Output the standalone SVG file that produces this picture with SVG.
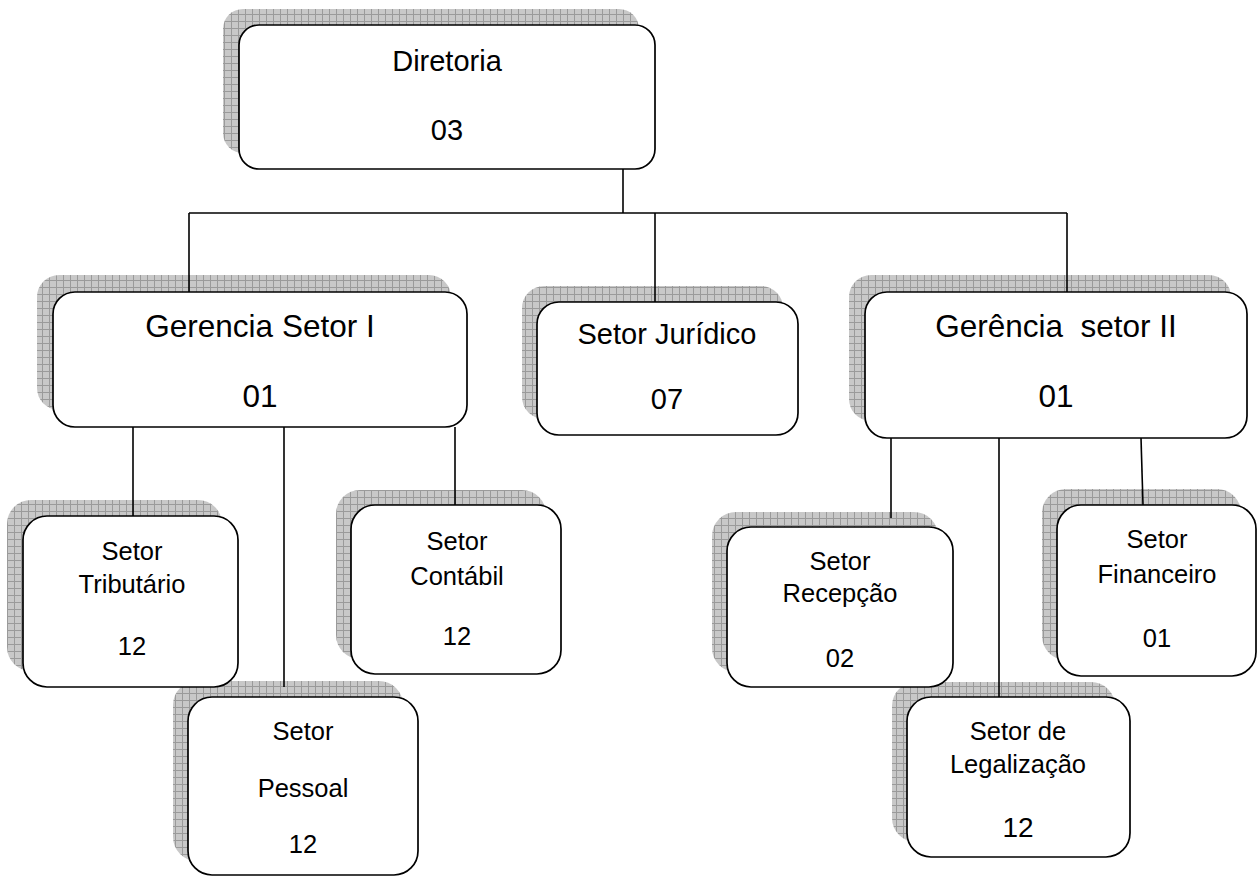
<svg xmlns="http://www.w3.org/2000/svg" width="1258" height="876" viewBox="0 0 1258 876">
<defs>
<pattern id="grid" width="7" height="7" patternUnits="userSpaceOnUse">
<rect width="7" height="7" fill="#c8c8c8"/>
<path d="M0 0.5H7M0.5 0V7" stroke="#9a9a9a" stroke-width="1" fill="none"/>
</pattern>
<style>
.sh{fill:url(#grid);stroke:none}
.box{fill:#fff;stroke:#000;stroke-width:1.7}
.t{font-family:"Liberation Sans",Arial,sans-serif;fill:#000;text-anchor:middle;white-space:pre}
.s{font-size:25.5px}
.con{stroke:#000;stroke-width:1.6;fill:none}
</style>
</defs>
<rect width="1258" height="876" fill="#fff"/>

<g id="diretoria">
<rect class="sh" x="223" y="9" width="416" height="144" rx="20"/>
<rect class="box" x="239" y="25" width="416" height="144" rx="20"/>
<text class="t" x="447" y="71" font-size="29">Diretoria</text>
<text class="t" x="447" y="140" font-size="29">03</text>
</g>

<g id="gerencia1">
<rect class="sh" x="37" y="275" width="414" height="135" rx="22"/>
<rect class="box" x="53" y="292" width="414" height="135" rx="22"/>
<text class="t" x="260" y="337" font-size="31.5">Gerencia Setor I</text>
<text class="t" x="260" y="407" font-size="31.5">01</text>
</g>

<g id="juridico">
<rect class="sh" x="522" y="286" width="261" height="133" rx="22"/>
<rect class="box" x="537" y="302" width="261" height="133" rx="22"/>
<text class="t" x="667" y="344" font-size="29">Setor Jurídico</text>
<text class="t" x="667" y="409" font-size="29">07</text>
</g>

<g id="gerencia2">
<rect class="sh" x="849" y="275" width="382" height="146" rx="22"/>
<rect class="box" x="865" y="292" width="382" height="146" rx="22"/>
<text class="t" x="1056" y="337" font-size="31.5">Gerência  setor II</text>
<text class="t" x="1056" y="407" font-size="31.5">01</text>
</g>

<g id="pessoal">
<rect class="sh" x="173" y="681" width="230" height="180" rx="24"/>
<rect class="box" x="188" y="697" width="230" height="178" rx="24"/>
<text class="t s" x="303" y="740">Setor</text>
<text class="t s" x="303" y="797">Pessoal</text>
<text class="t s" x="303" y="853">12</text>
</g>

<g id="tributario">
<rect class="sh" x="7" y="500" width="215" height="171" rx="24"/>
<rect class="box" x="23" y="516" width="215" height="171" rx="24"/>
<text class="t s" x="132" y="560">Setor</text>
<text class="t s" x="132" y="593">Tributário</text>
<text class="t s" x="132" y="655">12</text>
</g>

<g id="contabil">
<rect class="sh" x="336" y="490" width="210" height="169" rx="24"/>
<rect class="box" x="351" y="505" width="210" height="169" rx="24"/>
<text class="t s" x="457" y="550">Setor</text>
<text class="t s" x="457" y="585">Contábil</text>
<text class="t s" x="457" y="645">12</text>
</g>

<g id="legalizacao">
<rect class="sh" x="892" y="682" width="223" height="160" rx="24"/>
<rect class="box" x="907" y="697" width="223" height="160" rx="24"/>
<text class="t s" x="1018" y="740">Setor de</text>
<text class="t s" x="1018" y="773">Legalização</text>
<text class="t" x="1018" y="837" font-size="28">12</text>
</g>

<g id="recepcao">
<rect class="sh" x="712" y="512" width="226" height="160" rx="24"/>
<rect class="box" x="727" y="527" width="226" height="160" rx="24"/>
<text class="t s" x="840" y="570">Setor</text>
<text class="t s" x="840" y="602">Recepção</text>
<text class="t s" x="840" y="667">02</text>
</g>

<g id="financeiro">
<rect class="sh" x="1042" y="489" width="199" height="171" rx="24"/>
<rect class="box" x="1057" y="505" width="199" height="171" rx="24"/>
<text class="t s" x="1157" y="548">Setor</text>
<text class="t s" x="1157" y="583">Financeiro</text>
<text class="t s" x="1157" y="647">01</text>
</g>

<g id="connectors" class="con">
<path d="M623 169V213"/>
<path d="M189 213H1067"/>
<path d="M189 213V292"/>
<path d="M655 213V302"/>
<path d="M1067 213V292"/>
<path d="M133 427V516"/>
<path d="M284 427V687"/>
<path d="M455 427V505"/>
<path d="M891 438V518"/>
<path d="M999 438V697"/>
<path d="M1141 438L1143 505"/>
</g>
</svg>
